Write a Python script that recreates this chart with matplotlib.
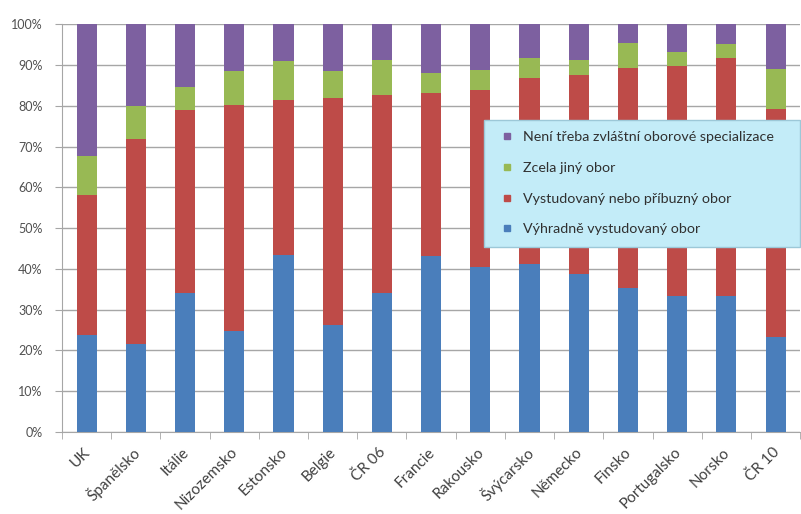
import numpy as np
import matplotlib
matplotlib.use('Agg')
from matplotlib import pyplot as plt
from matplotlib.lines import Line2D
from matplotlib.transforms import ScaledTranslation

plt.rcParams['font.family'] = ['Lato', 'DejaVu Sans']

countries = ['UK', 'Španělsko', 'Itálie', 'Nizozemsko', 'Estonsko', 'Belgie', 'ČR 06',
             'Francie', 'Rakousko', 'Švýcarsko', 'Německo', 'Finsko', 'Portugalsko',
             'Norsko', 'ČR 10']

# cumulative tops (percent)
vyhradne = [23.8, 21.7, 34.0, 24.8, 43.4, 26.2, 34.0, 43.1, 40.5, 41.3, 38.7, 35.2, 33.3, 33.3, 23.2]
top_pribuzny = [58.2, 71.8, 78.9, 80.1, 81.5, 81.9, 82.6, 83.2, 83.8, 86.9, 87.5, 89.3, 89.8, 91.6, 79.1]
top_jiny = [67.7, 79.9, 84.5, 88.6, 90.9, 88.5, 91.3, 88.1, 88.7, 91.8, 91.2, 95.3, 93.2, 95.1, 89.0]

series_names = ['Výhradně vystudovaný obor', 'Vystudovaný nebo příbuzný obor',
                'Zcela jiný obor', 'Není třeba zvláštní oborové specializace']
colors = ['#4a7ebb', '#be4b48', '#98b954', '#7d60a0']

blue = np.array(vyhradne)
red = np.array(top_pribuzny) - blue
green = np.array(top_jiny) - np.array(top_pribuzny)
purple = 100 - np.array(top_jiny)

fig = plt.figure(figsize=(8.01, 5.14), dpi=100)
ax = fig.add_axes([0.0774, 0.1595, 0.9216, 0.7935])

x = np.arange(len(countries))
w = 0.41
bottom = np.zeros(len(countries))
for vals, name, c in zip([blue, red, green, purple], series_names, colors):
    ax.bar(x, vals, w, bottom=bottom, color=c, label=name, zorder=3)
    bottom = bottom + vals

ax.set_xlim(-0.5, len(countries) - 0.5)
ax.set_ylim(0, 100)
ax.set_yticks(np.arange(0, 101, 10))
ax.set_yticklabels([f'{v}%' for v in range(0, 101, 10)])
ax.yaxis.grid(True, color='#a6a6a6', linewidth=1, zorder=0)

for s in ['top', 'right']:
    ax.spines[s].set_visible(False)
ax.spines['left'].set_color('#a6a6a6')
ax.spines['bottom'].set_color('#a6a6a6')

ax.set_xticks(x)
ax.set_xticks(np.arange(-0.5, len(countries), 1), minor=True)
ax.tick_params(axis='x', which='major', length=0, pad=13)
ax.tick_params(axis='x', which='minor', length=5, color='#a6a6a6', direction='out')
ax.tick_params(axis='y', length=5, pad=9, color='#a6a6a6', labelsize=9, labelcolor='#505050')
ax.set_xticklabels(countries, rotation=45, ha='right', va='center', rotation_mode='anchor',
                   fontsize=11, color='#404040')
shift = ScaledTranslation(1 / 72, 0, fig.dpi_scale_trans)
for lbl in ax.get_xticklabels():
    lbl.set_transform(lbl.get_transform() + shift)

handles = [Line2D([], [], linestyle='none', marker='s', markersize=4.5,
                  markerfacecolor=c, markeredgecolor=c) for c in colors[::-1]]
leg = ax.legend(handles, series_names[::-1], loc='upper left',
                bbox_to_anchor=(0.572, 0.765, 0.428, 0.0), mode='expand',
                fontsize=10.3, frameon=True, fancybox=False, borderpad=0.8,
                labelspacing=1.3, handlelength=1.6, handletextpad=0.3,
                borderaxespad=0)
leg.get_frame().set_facecolor('#c3ecf8')
leg.get_frame().set_edgecolor('#9cc8d8')
leg.get_frame().set_alpha(1)
leg.set_zorder(5)
for t in leg.get_texts():
    t.set_color('#303030')

fig.savefig('out.png', dpi=100)
